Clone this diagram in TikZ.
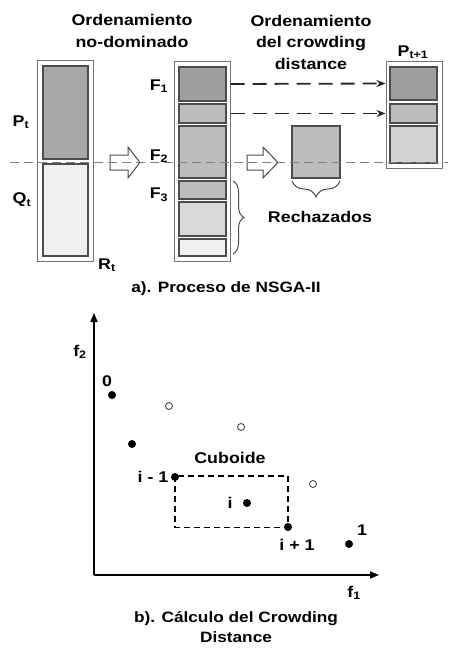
\documentclass[tikz,border=0pt]{standalone}
\usepackage{fontspec}
\setmainfont{Liberation Sans}[FakeStretch=1.15]
\usetikzlibrary{arrows.meta,decorations.pathreplacing,fit}
\newcommand{\mysub}[1]{\textsubscript{#1}}
\definecolor{cdark}{gray}{0.62}
\definecolor{cpt}{gray}{0.66}
\definecolor{cmid}{gray}{0.74}
\definecolor{clight}{gray}{0.85}
\definecolor{cvlight}{gray}{0.94}
\begin{document}
\begin{tikzpicture}[x=1pt,y=-1pt,
  lbl/.style={font=\fontsize{15.5}{21.5}\selectfont\bfseries, inner sep=0pt, align=center},
  captext/.style={font=\fontsize{15}{20.5}\selectfont\bfseries, inner sep=0pt, align=center},
  outerbox/.style={draw=black!55, line width=1pt, fill=white, inner sep=0pt},
  cell/.style={draw=black!70, line width=1.4pt, inner sep=0pt},
  cutline/.style={draw=black!50, line width=1pt, dash pattern=on 9pt off 5pt},
  dasharrow/.style={draw=black!85, line width=1.8pt, dash pattern=on 14pt off 8pt, -{Stealth[length=9pt,width=7pt]}},
  hollow/.style={draw=black!70, line width=1pt, fill=white},
  bracestyle/.style={draw=black!70, line width=1pt, decorate},
  axis/.style={draw=black, line width=1.6pt, -{Triangle[length=9pt,width=7pt]}},
  dot/.style={circle, fill=black, inner sep=0pt, minimum size=8pt},
  odot/.style={circle, draw=black!70, line width=0.9pt, fill=white, inner sep=0pt, minimum size=7pt},
  cuboid/.style={draw=black, line width=1.5pt, dash pattern=on 6pt off 4pt}
]
\useasboundingbox (0,0) rectangle (448,650);

% ---------- titles
\node[lbl] (t1) at (132,31) {Ordenamiento\\no-dominado};
\node[lbl] (t2) at (311,42) {Ordenamiento\\del crowding\\distance};

% ---------- R_t column
\node[outerbox, fit={(37,61)(93,261)}] (Rcol) {};
\node[cell, fill=cpt, fit={(43,66)(88,159)}] (Pt) {};
\node[cell, fill=cvlight, fit={(43,164)(88,256)}] (Qt) {};
\node[lbl] (lPt) at (21,122) {P\mysub{t}};
\node[lbl] (lQt) at (22,200) {Q\mysub{t}};
\node[lbl] (lRt) at (107,265) {R\mysub{t}};

% ---------- F column
\node[outerbox, fit={(174,62)(230,261)}] (Fcol) {};
\node[cell, fill=cdark, fit={(179,67)(226,101)}] (F1) {};
\node[cell, fill=cmid, fit={(179,104)(226,123)}] (F2a) {};
\node[cell, fill=cmid, fit={(179,126)(226,178)}] (F2b) {};
\node[cell, fill=cmid, fit={(179,181)(226,199)}] (F3a) {};
\node[cell, fill=clight, fit={(179,202)(226,236)}] (F3b) {};
\node[cell, fill=cvlight, fit={(179,239)(226,256)}] (F3c) {};
\node[lbl] (lF1) at (159,86) {F\mysub{1}};
\node[lbl] (lF2) at (159,156) {F\mysub{2}};
\node[lbl] (lF3) at (159,195) {F\mysub{3}};

% ---------- rejected box
\node[cell, fill=cmid, fit={(292,126)(340,178)}] (Rej) {};
\node[lbl] (lRej) at (320,217) {Rechazados};

% ---------- P_{t+1} column
\node[outerbox, fit={(386,62)(442,168)}] (Pcol) {};
\node[cell, fill=cdark, fit={(390,67)(437,100)}] (N1) {};
\node[cell, fill=cmid, fit={(390,104)(437,123)}] (N2) {};
\node[cell, fill=clight!80!cmid, fit={(390,126)(437,163)}] (N3) {};
\node[lbl] (lPn) at (413,52) {P\mysub{t+1}};

% ---------- hollow arrows
\draw[hollow] (110,155) -- (128,155) -- (128,147) -- (140,162.5) -- (128,178) -- (128,170) -- (110,170) -- cycle;
\draw[hollow] (247,155) -- (263,155) -- (263,147) -- (278,162.5) -- (263,178) -- (263,170) -- (247,170) -- cycle;

% ---------- cut line
\coordinate (cl) at (10,162.5);
\coordinate (cr) at (448,162.5);
\draw[cutline] (cl) -- (cr);

% ---------- dashed arrows
\draw[dasharrow] (F1.east -| Fcol.east) -- (N1.west -| Pcol.west);
\draw[dasharrow] (F2a.east -| Fcol.east) -- (N2.west -| Pcol.west);

% ---------- braces
\coordinate (b1s) at (233,181);
\coordinate (b1e) at (233,254);
\draw[bracestyle, decoration={brace, amplitude=11pt}] (b1s) -- (b1e);
\coordinate (b2s) at (340,181);
\coordinate (b2e) at (292,181);
\draw[bracestyle, decoration={brace, amplitude=16pt}] (b2s) -- (b2e);

% ---------- caption a
\node[captext] (capa) at (226,289) {a). Proceso de NSGA-II};

% ---------- plot
\coordinate (O) at (94,575);
\coordinate (ytip) at (94,313);
\coordinate (xtip) at (379,575);
\draw[axis] (O) -- (ytip);
\draw[axis] (O) -- (xtip);
\node[lbl] (lf2) at (80,352) {f\mysub{2}};
\node[lbl] (lf1) at (354,593) {f\mysub{1}};

\draw[cuboid] (175,476) rectangle (288,527.5);

\node[dot] (p0) at (112,395) {};
\node[dot] (p1) at (132,444) {};
\node[dot] (pim) at (175,477) {};
\node[dot] (pi) at (247,503) {};
\node[dot] (pip) at (288,527) {};
\node[dot] (pe) at (349,544) {};
\node[odot] (q1) at (169,406) {};
\node[odot] (q2) at (241,427) {};
\node[odot] (q3) at (313,484) {};

\node[lbl] (l0) at (107,381) {0};
\node[lbl] (lim) at (153,477) {i - 1};
\node[lbl] (li) at (230,503) {i};
\node[lbl] (lip) at (297,545) {i + 1};
\node[lbl] (le) at (362,530) {1};
\node[lbl] (lcub) at (230,458) {Cuboide};

% ---------- caption b
\node[captext] (capb) at (236,627) {b). Cálculo del Crowding\\Distance};
\end{tikzpicture}
\end{document}
